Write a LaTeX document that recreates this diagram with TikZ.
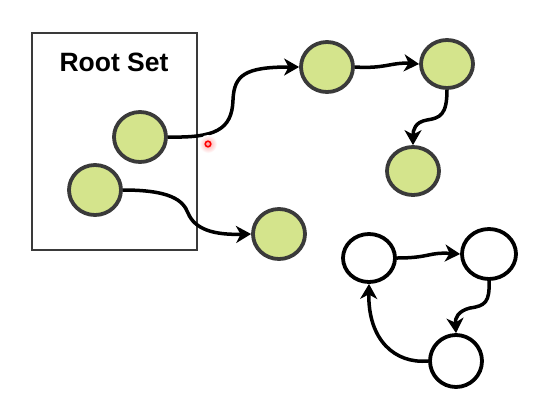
\documentclass[tikz,border=0pt]{standalone}
\usepackage{fontspec}
\setmainfont{Liberation Sans}
\usetikzlibrary{arrows.meta,shapes.geometric}
\definecolor{leaf}{RGB}{212,228,140}
\definecolor{rim}{RGB}{58,58,58}
\tikzset{
  gnode/.style={ellipse,draw=rim,fill=leaf,line width=3.8pt,inner sep=0pt,minimum width=52pt,minimum height=50pt},
  wnode/.style={ellipse,draw=black,fill=white,line width=3.8pt,inner sep=0pt,minimum width=52pt,minimum height=48pt},
  edge/.style={line width=3.5pt,black,-{Stealth[length=15pt,width=17pt,inset=4.5pt]}}
}
\begin{document}
\begin{tikzpicture}[x=1pt,y=-1pt]
\useasboundingbox (0,0) rectangle (536,400);
\fill[white] (0,0) rectangle (536,400);
\node[draw=rim,line width=1.2pt,minimum width=165pt,minimum height=217pt,inner sep=0pt] (box) at (114.5,141.5) {};
\node[font=\bfseries\fontsize{26.5}{30}\selectfont] (title) at (114,62) {Root Set};
\node[gnode] (A) at (140,137) {};
\node[gnode] (B) at (95,190) {};
\node[gnode] (C) at (327,67) {};
\node[gnode,minimum height=48pt] (D) at (447,64) {};
\node[gnode,minimum height=48pt] (E) at (413,171) {};
\node[gnode] (F) at (279,234) {};
\node[wnode] (G) at (369,258) {};
\node[wnode,minimum width=54pt,minimum height=50pt] (H) at (489,254) {};
\node[wnode,minimum height=52pt] (I) at (456,361) {};
\draw[edge] (A.east) .. controls (215,138) and (232,130) .. (233,100) .. controls (234,75) and (245,67) .. (C.west);
\draw[edge] (C.east) .. controls (385,69) and (392,62) .. (D.west);
\draw[edge] (D.south) .. controls (447,115) and (440,118) .. (427,120) .. controls (415,122) and (413,130) .. (E.north);
\draw[edge] (B.east) .. controls (170,190) and (183,200) .. (188,213) .. controls (195,230) and (215,235) .. (F.west);
\draw[edge] (G.east) .. controls (430,258) and (428,252) .. (H.west);
\draw[edge] (H.south) .. controls (490,302) and (485,306) .. (470,308) .. controls (458,311) and (455,318) .. (I.north);
\draw[edge] (I.west) .. controls (395,364) and (368,340) .. (G.south);
\shade[inner color=red!35,outer color=white] (208,144) circle (9);
\draw[red,line width=1.6pt] (208,144) circle (2.8);
\end{tikzpicture}
\end{document}
